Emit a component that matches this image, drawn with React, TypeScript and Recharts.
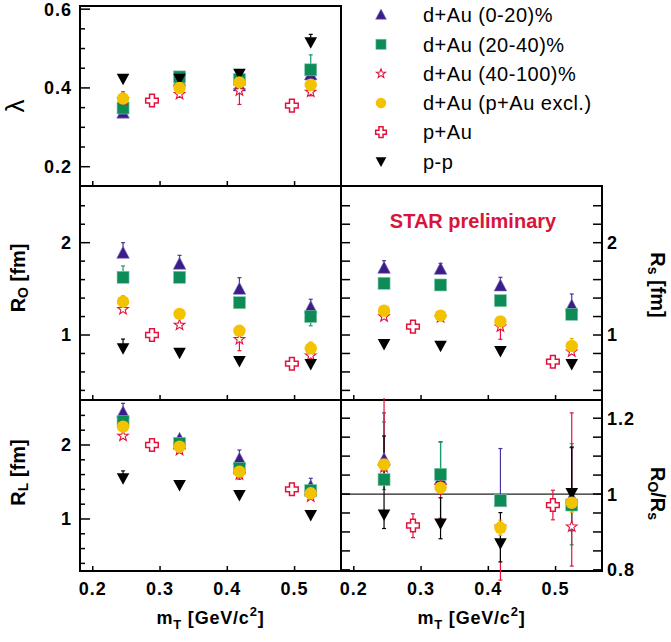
import React from 'react';
import { ScatterChart, Scatter, XAxis, YAxis, ErrorBar, ReferenceArea, ReferenceLine } from 'recharts';

const FONT = '"Liberation Sans", Arial, Helvetica, sans-serif';

// m_T positions (GeV/c^2)
const mtDAu = [0.245, 0.329, 0.418, 0.524];
const mtPAu = [0.288, 0.496];
const mtPP = [0.245, 0.329, 0.418, 0.524];
const xTicks = [0.2, 0.3, 0.4, 0.5];
const X_DOMAIN: [number, number] = [0.181, 0.569];

// lambda
const lamD020 = [0.336, 0.418, 0.405, 0.433];
const lamD2040 = [0.349, 0.428, 0.421, 0.446];
const lamD40100 = [0.37, 0.384, 0.393, 0.39];
const lamExcl = [0.373, 0.4, 0.414, 0.408];
const lamPAu = [0.368, 0.355];
const lamPP = [0.423, 0.423, 0.436, 0.516];
const lamErrD020 = [[0, 0.008], [0, 0.008], [0, 0.01], [0, 0.021]];
const lamErrD2040 = [[0, 0.008], [0, 0.008], [0, 0.008], [0, 0.038]];
const lamErrD40100 = [[0, 0.02], [0.008, 0], [0.035, 0], [0.01, 0]];
const lamErrExcl = [[0, 0.005], [0, 0.005], [0, 0.005], [0, 0.005]];
const lamErrPAu = [[0, 0], [0, 0]];
const lamErrPP = [[0, 0.005], [0, 0.005], [0, 0.005], [0, 0.02]];

// R_O
const roD020 = [1.885, 1.766, 1.495, 1.296];
const roD2040 = [1.625, 1.625, 1.35, 1.2];
const roD40100 = [1.278, 1.108, 0.953, 0.776];
const roExcl = [1.361, 1.228, 1.046, 0.856];
const roPAu = [1.0, 0.689];
const roPP = [0.856, 0.808, 0.718, 0.686];
const roErrD020 = [[0, 0.115], [0, 0.097], [0, 0.126], [0, 0.091]];
const roErrD2040 = [[0, 0.123], [0, 0.04], [0, 0.03], [0.1, 0]];
const roErrD40100 = [[0, 0.02], [0, 0.02], [0.123, 0], [0, 0.02]];
const roErrExcl = [[0, 0.065], [0, 0.02], [0, 0.02], [0, 0.068]];
const roErrPAu = [[0, 0], [0, 0]];
const roErrPP = [[0, 0.1], [0, 0.01], [0, 0.01], [0, 0.01]];

// R_s
const rsD020 = [1.722, 1.711, 1.531, 1.314];
const rsD2040 = [1.56, 1.542, 1.372, 1.224];
const rsD40100 = [1.2, 1.19, 1.09, 0.82];
const rsExcl = [1.263, 1.209, 1.148, 0.881];
const rsPAu = [1.091, 0.711];
const rsPP = [0.902, 0.884, 0.827, 0.686];
const rsErrD020 = [[0, 0.083], [0, 0.065], [0, 0.094], [0, 0.13]];
const rsErrD2040 = [[0, 0.04], [0, 0.02], [0, 0.03], [0, 0.03]];
const rsErrD40100 = [[0, 0.02], [0, 0.02], [0.137, 0], [0, 0.02]];
const rsErrExcl = [[0, 0.02], [0, 0.02], [0, 0.02], [0, 0.08]];
const rsErrPAu = [[0, 0], [0, 0]];
const rsErrPP = [[0, 0.01], [0, 0.01], [0, 0.01], [0, 0.01]];

// R_L
const rlD020 = [2.437, 2.077, 1.806, 1.437];
const rlD2040 = [2.315, 2.022, 1.685, 1.383];
const rlD40100 = [2.122, 1.93, 1.6, 1.3];
const rlExcl = [2.248, 1.977, 1.64, 1.347];
const rlPAu = [2.0, 1.401];
const rlPP = [1.55, 1.459, 1.324, 1.054];
const rlErrD020 = [[0, 0.126], [0, 0.04], [0, 0.126], [0, 0.113]];
const rlErrD2040 = [[0, 0.02], [0, 0.02], [0, 0.02], [0, 0.02]];
const rlErrD40100 = [[0, 0.02], [0, 0.02], [0.064, 0], [0, 0.02]];
const rlErrExcl = [[0, 0.01], [0, 0.01], [0, 0.01], [0, 0.01]];
const rlErrPAu = [[0, 0], [0, 0]];
const rlErrPP = [[0, 0.1], [0, 0.01], [0, 0.01], [0, 0.01]];

// R_O / R_s
const ratD020 = [1.091, 1.038, 0.98, 0.99];
const ratD2040 = [1.038, 1.052, 0.983, 0.971];
const ratD40100 = [1.07, 1.02, 0.913, 0.914];
const ratExcl = [1.078, 1.017, 0.911, 0.977];
const ratPAu = [0.917, 0.971];
const ratPP = [0.946, 0.922, 0.87, 1.003];
const ratErrD020 = [[0, 0.123], [0, 0.1], [0, 0.14], [0.087, 0.132]];
const ratErrD2040 = [[0.026, 0.152], [0, 0.085], [0, 0], [0.105, 0.162]];
const ratErrD40100 = [[0, 0.25], [0.084, 0], [0.14, 0], [0.104, 0.3]];
const ratErrExcl = [[0.01, 0.01], [0.01, 0.01], [0.02, 0.02], [0.025, 0.025]];
const ratErrPAu = [[0.032, 0.031], [0.039, 0.039]];
const ratErrPP = [[0.037, 0.207], [0.04, 0.068], [0.049, 0.081], [0, 0.121]];

// axis ticks
const lamTicks = [0.2, 0.25, 0.3, 0.35, 0.4, 0.45, 0.5, 0.55, 0.6];
const lamMajor = [0.2, 0.4, 0.6];
const rTicks = [0.4, 0.6, 0.8, 1, 1.2, 1.4, 1.6, 1.8, 2, 2.2, 2.4];
const rMajor = [1, 2];
const ratTicks = [0.8, 0.85, 0.9, 0.95, 1, 1.05, 1.1, 1.15, 1.2];
const ratMajor = [0.8, 1, 1.2];

const PURPLE = '#3a1d88';
const GREEN = '#0d8c58';
const RED = '#e3123d';
const GOLD = '#f4c300';

const triUp = (cx: number, cy: number, s = 1) => (
  <polygon points={`${cx},${cy - 7 * s} ${cx - 6.3 * s},${cy + 5 * s} ${cx + 6.3 * s},${cy + 5 * s}`}
    fill={PURPLE} stroke="#7d70b8" strokeWidth={0.6} />
);
const square = (cx: number, cy: number, s = 1) => (
  <rect x={cx - 6 * s} y={cy - 6 * s} width={12 * s} height={12 * s} fill={GREEN} stroke="#7fc6a6" strokeWidth={0.6} />
);
const starMark = (cx: number, cy: number, s = 1) => {
  const pts: string[] = [];
  for (let k = 0; k < 10; k++) {
    const r = (k % 2 ? 2.3 : 5.6) * s;
    const a = -Math.PI / 2 + (k * Math.PI) / 5;
    pts.push(`${cx + r * Math.cos(a)},${cy + r * Math.sin(a)}`);
  }
  return <polygon points={pts.join(' ')} fill="#fff" stroke={RED} strokeWidth={1.1} />;
};
const dot = (cx: number, cy: number, s = 1) => <circle cx={cx} cy={cy} r={6.2 * s} fill={GOLD} />;
const crossMark = (cx: number, cy: number, s = 1) => {
  const a = 2.4 * s, b = 6.3 * s;
  const d = `M${cx - a},${cy - b}H${cx + a}V${cy - a}H${cx + b}V${cy + a}H${cx + a}V${cy + b}H${cx - a}V${cy + a}H${cx - b}V${cy - a}H${cx - a}Z`;
  return <path d={d} fill="#fff" stroke={RED} strokeWidth={1.5} />;
};
const triDown = (cx: number, cy: number, s = 1) => (
  <polygon points={`${cx - 6.3 * s},${cy - 5 * s} ${cx + 6.3 * s},${cy - 5 * s} ${cx},${cy + 6.5 * s}`} fill="#000" />
);

const MARKS = [
  { name: 'd+Au (0-20)%', xs: mtDAu, draw: triUp, err: '#4b329c' },
  { name: 'd+Au (20-40)%', xs: mtDAu, draw: square, err: '#1a9b6a' },
  { name: 'd+Au (40-100)%', xs: mtDAu, draw: starMark, err: RED },
  { name: 'd+Au (p+Au excl.)', xs: mtDAu, draw: dot, err: '#e2b400' },
  { name: 'p+Au', xs: mtPAu, draw: crossMark, err: RED },
  { name: 'p-p', xs: mtPP, draw: triDown, err: '#000' },
];
const DRAW_ORDER = [0, 1, 2, 4, 5, 3];

const PLOT_W = 261;

const tickText = { fontFamily: FONT, fontWeight: 700, fontSize: 18, letterSpacing: 1, fill: '#000' } as const;

const xTick = (labels: boolean) => (p: any) => (
  <g>
    <line x1={p.x} x2={p.x} y1={p.y} y2={p.y - 5} stroke="#000" strokeWidth={1.5} />
    {labels && (
      <text x={p.x} y={p.y + 24} textAnchor="middle" {...tickText}>{String(p.payload.value)}</text>
    )}
  </g>
);

const yTick = (side: 'left' | 'right', majors: number[], labels: boolean, majorLen: number, minorLen: number) => (p: any) => {
  const v = p.payload.value;
  const major = majors.some((m) => Math.abs(m - v) < 1e-6);
  const dir = side === 'left' ? 1 : -1;
  const len = major ? majorLen : minorLen;
  return (
    <g>
      <line x1={p.x} x2={p.x + dir * len} y1={p.y} y2={p.y} stroke="#000" strokeWidth={1.5} />
      {labels && major && (
        <text x={side === 'left' ? p.x - 8 : p.x + 5} y={p.y} dy="0.36em"
          textAnchor={side === 'left' ? 'end' : 'start'} {...tickText}>{String(v)}</text>
      )}
    </g>
  );
};

const titleStyle = { fontFamily: FONT, fontWeight: 700, fontSize: 20, fill: '#000' } as const;

const leftTitle = (dy: number, body: React.ReactNode, cxOff = 18) => (p: any) => {
  const vb = p.viewBox;
  const cx = vb.x + cxOff;
  const cy = vb.y + vb.height / 2 + dy;
  return (
    <text x={cx} y={cy} transform={`rotate(-90 ${cx} ${cy})`} textAnchor="middle" dominantBaseline="central" {...titleStyle}>
      {body}
    </text>
  );
};

const rightTitle = (dy: number, body: React.ReactNode) => (p: any) => {
  const vb = p.viewBox;
  const cx = vb.x + 56;
  const cy = vb.y + vb.height / 2 + dy;
  return (
    <text x={cx} y={cy} transform={`rotate(90 ${cx} ${cy})`} textAnchor="middle" dominantBaseline="central" {...titleStyle}>
      {body}
    </text>
  );
};

const xTitle = (p: any) => {
  const vb = p.viewBox;
  return (
    <text x={vb.x + vb.width / 2} y={vb.y + 53} textAnchor="middle" {...titleStyle} fontSize={18} letterSpacing={0.8}>
      m<tspan dy={5} fontSize={13}>T</tspan>
      <tspan dy={-5}> [GeV/c</tspan>
      <tspan dy={-8} fontSize={13}>2</tspan>
      <tspan dy={8}>]</tspan>
    </text>
  );
};

type PanelProps = {
  col: 'left' | 'right';
  plotTop: number;
  plotH: number;
  padTop: number;
  bottomH: number;
  yDomain: [number, number];
  yTicks: number[];
  yMajor: number[];
  values: number[][];
  errs: number[][][];
  xLabels: boolean;
  title: (p: any) => React.ReactElement;
  refY?: number;
};

function Panel(props: PanelProps) {
  const { col, plotTop, plotH, padTop, bottomH, yDomain, yTicks, yMajor, values, errs, xLabels, title, refY } = props;
  const leftW = col === 'left' ? 80 : 10;
  const rightW = col === 'left' ? 0 : 69;
  const width = leftW + PLOT_W + (col === 'left' ? 2 : rightW);
  const height = padTop + plotH + bottomH;
  return (
    <div style={{ position: 'absolute', left: col === 'left' ? 0 : 331, top: plotTop - padTop }}>
      <ScatterChart width={width} height={height} margin={{ top: padTop, right: col === 'left' ? 2 : 0, bottom: 0, left: 0 }}>
        <XAxis type="number" dataKey="x" domain={X_DOMAIN} allowDataOverflow ticks={xTicks} interval={0}
          tickSize={0} tickMargin={0} tickLine={false} axisLine={false} height={bottomH}
          tick={xTick(xLabels)} label={xLabels ? xTitle : undefined} />
        <YAxis yAxisId="l" type="number" dataKey="y" domain={yDomain} allowDataOverflow ticks={yTicks} interval={0}
          width={leftW} tickSize={0} tickMargin={0} tickLine={false} axisLine={false}
          tick={col === 'left' ? yTick('left', yMajor, true, 10, 5) : yTick('left', yMajor, false, 9, 9)}
          label={col === 'left' ? title : undefined} />
        {col === 'right' && (
          <YAxis yAxisId="r" orientation="right" type="number" domain={yDomain} allowDataOverflow ticks={yTicks} interval={0}
            width={rightW} tickSize={0} tickMargin={0} tickLine={false} axisLine={false}
            tick={yTick('right', yMajor, true, 9, 9)} label={title} />
        )}
        <ReferenceArea yAxisId="l" x1={X_DOMAIN[0]} x2={X_DOMAIN[1]} y1={yDomain[0]} y2={yDomain[1]}
          fill="none" fillOpacity={0} stroke="#000" strokeWidth={2} strokeOpacity={1} ifOverflow="visible" />
        {refY !== undefined && (
          <ReferenceLine yAxisId="l" y={refY} stroke="#222" strokeWidth={1.3} />
        )}
        {DRAW_ORDER.map((i) => {
          const m = MARKS[i];
          const data = m.xs.map((x, k) => ({ x, y: values[i][k], e: errs[i][k] }));
          return (
            <Scatter key={m.name} name={m.name} yAxisId="l" data={data} isAnimationActive={false}
              shape={(p: any) => m.draw(p.cx, p.cy, 1)}>
              <ErrorBar dataKey="e" direction="y" width={2} stroke={m.err} strokeWidth={1.2} isAnimationActive={false} />
            </Scatter>
          );
        })}
      </ScatterChart>
    </div>
  );
}

function LegendBox() {
  return (
    <svg width={340} height={180} style={{ position: 'absolute', left: 331, top: 0 }}>
      {MARKS.map((m, i) => {
        const y = 15 + i * 29.3;
        return (
          <g key={m.name}>
            {m.draw(50, y, 0.85)}
            <text x={92} y={y} dy="0.36em" fontFamily={FONT} fontSize={20} letterSpacing={0.5} fill="#000">{m.name}</text>
          </g>
        );
      })}
    </svg>
  );
}

export default function App() {
  return (
    <div style={{ position: 'absolute', left: 0, top: 0, width: 671, height: 642, background: '#fff', fontFamily: FONT }}>
      <Panel col="left" plotTop={6} plotH={180} padTop={6} bottomH={4} yDomain={[0.151, 0.608]}
        yTicks={lamTicks} yMajor={lamMajor} xLabels={false}
        values={[lamD020, lamD2040, lamD40100, lamExcl, lamPAu, lamPP]}
        errs={[lamErrD020, lamErrD2040, lamErrD40100, lamErrExcl, lamErrPAu, lamErrPP]}
        title={leftTitle(10, <tspan fontWeight={400} fontSize={26}>λ</tspan>, 15)} />
      <LegendBox />
      <Panel col="left" plotTop={186} plotH={214} padTop={2} bottomH={4} yDomain={[0.296, 2.614]}
        yTicks={rTicks} yMajor={rMajor} xLabels={false}
        values={[roD020, roD2040, roD40100, roExcl, roPAu, roPP]}
        errs={[roErrD020, roErrD2040, roErrD40100, roErrExcl, roErrPAu, roErrPP]}
        title={leftTitle(-15, <>R<tspan dy={5} fontSize={14}>O</tspan><tspan dy={-5}> [fm]</tspan></>)} />
      <Panel col="right" plotTop={186} plotH={214} padTop={2} bottomH={4} yDomain={[0.296, 2.614]}
        yTicks={rTicks} yMajor={rMajor} xLabels={false}
        values={[rsD020, rsD2040, rsD40100, rsExcl, rsPAu, rsPP]}
        errs={[rsErrD020, rsErrD2040, rsErrD40100, rsErrExcl, rsErrPAu, rsErrPP]}
        title={rightTitle(-8, <>R<tspan dy={5} fontSize={14}>s</tspan><tspan dy={-5}> [fm]</tspan></>)} />
      <Panel col="left" plotTop={400} plotH={171} padTop={2} bottomH={66} yDomain={[0.297, 2.608]}
        yTicks={rTicks} yMajor={rMajor} xLabels={true}
        values={[rlD020, rlD2040, rlD40100, rlExcl, rlPAu, rlPP]}
        errs={[rlErrD020, rlErrD2040, rlErrD40100, rlErrExcl, rlErrPAu, rlErrPP]}
        title={leftTitle(-13, <>R<tspan dy={5} fontSize={14}>L</tspan><tspan dy={-5}> [fm]</tspan></>)} />
      <Panel col="right" plotTop={400} plotH={171} padTop={2} bottomH={66} yDomain={[0.797, 1.248]}
        yTicks={ratTicks} yMajor={ratMajor} xLabels={true} refY={1}
        values={[ratD020, ratD2040, ratD40100, ratExcl, ratPAu, ratPP]}
        errs={[ratErrD020, ratErrD2040, ratErrD40100, ratErrExcl, ratErrPAu, ratErrPP]}
        title={rightTitle(8, <>R<tspan dy={5} fontSize={14}>O</tspan><tspan dy={-5}>/R</tspan><tspan dy={5} fontSize={14}>s</tspan></>)} />
      <div style={{ position: 'absolute', left: 373, top: 209, width: 200, textAlign: 'center', color: '#d8143a',
        fontFamily: FONT, fontWeight: 700, fontSize: 20, lineHeight: '25px' }}>STAR preliminary</div>
    </div>
  );
}
